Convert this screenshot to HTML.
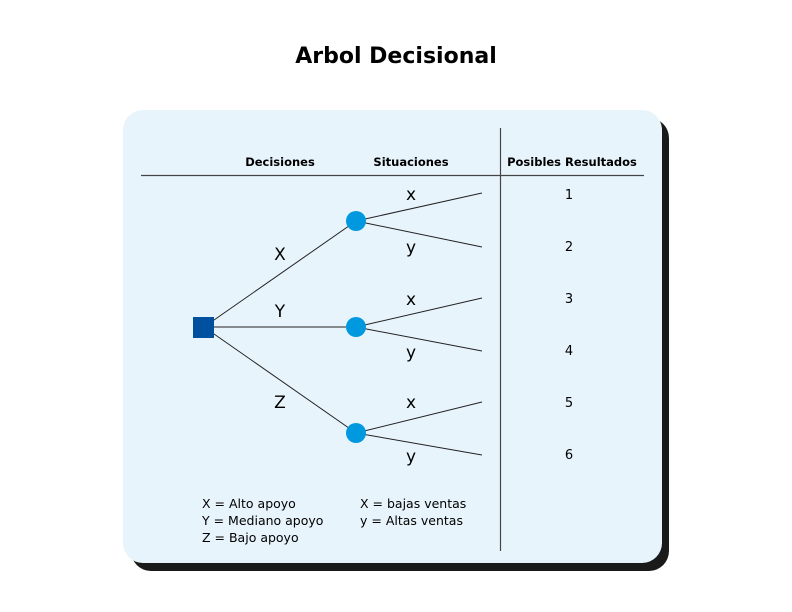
<!DOCTYPE html>
<html><head><meta charset="utf-8"><style>
html,body{margin:0;padding:0;background:#fff;width:792px;height:612px;overflow:hidden}
</style></head><body>
<svg width="792" height="612" viewBox="0 0 792 612" xmlns="http://www.w3.org/2000/svg" style="font-family:'DejaVu Sans','Liberation Sans',sans-serif">
<text x="396" y="63" text-anchor="middle" font-size="22" font-weight="bold" fill="#000">Arbol Decisional</text>
<rect x="131" y="118" width="538" height="453" rx="20" fill="#1a1a1a"/>
<rect x="123" y="110" width="539" height="453" rx="20" fill="#e8f4fc"/>
<line x1="141" y1="175.5" x2="644" y2="175.5" stroke="#444" stroke-width="1.2"/>
<line x1="500.5" y1="128" x2="500.5" y2="551" stroke="#444" stroke-width="1.2"/>
<g font-size="11.5" font-weight="bold" fill="#000" text-anchor="middle">
<text x="280" y="166">Decisiones</text>
<text x="411" y="166">Situaciones</text>
<text x="572" y="166">Posibles Resultados</text>
</g>
<g stroke="#222" stroke-width="1" fill="none">
<line x1="204" y1="327" x2="356" y2="221"/>
<line x1="204" y1="327" x2="356" y2="327"/>
<line x1="204" y1="327" x2="356" y2="433"/>
<line x1="356" y1="221" x2="482" y2="193"/>
<line x1="356" y1="221" x2="482" y2="247"/>
<line x1="356" y1="327" x2="482" y2="298"/>
<line x1="356" y1="327" x2="482" y2="351"/>
<line x1="356" y1="433" x2="482" y2="402"/>
<line x1="356" y1="433" x2="482" y2="455"/>
</g>
<rect x="193" y="317" width="21" height="21" fill="#0050a0"/>
<circle cx="356" cy="221" r="10" fill="#0099e0"/>
<circle cx="356" cy="327" r="10" fill="#0099e0"/>
<circle cx="356" cy="433" r="10" fill="#0099e0"/>
<g font-size="17" fill="#000" text-anchor="middle">
<text x="280" y="260">X</text>
<text x="280" y="317">Y</text>
<text x="280" y="408">Z</text>
<text x="411" y="200">x</text>
<text x="411" y="253">y</text>
<text x="411" y="305">x</text>
<text x="411" y="358">y</text>
<text x="411" y="408">x</text>
<text x="411" y="462">y</text>
</g>
<g font-size="13" fill="#000" text-anchor="middle">
<text x="569" y="199">1</text>
<text x="569" y="251">2</text>
<text x="569" y="303">3</text>
<text x="569" y="355">4</text>
<text x="569" y="407">5</text>
<text x="569" y="459">6</text>
</g>
<g font-size="12.5" fill="#000">
<text x="202" y="508">X = Alto apoyo</text>
<text x="202" y="525">Y = Mediano apoyo</text>
<text x="202" y="542">Z = Bajo apoyo</text>
<text x="360" y="508">X = bajas ventas</text>
<text x="360" y="525">y = Altas ventas</text>
</g>
</svg>
</body></html>
